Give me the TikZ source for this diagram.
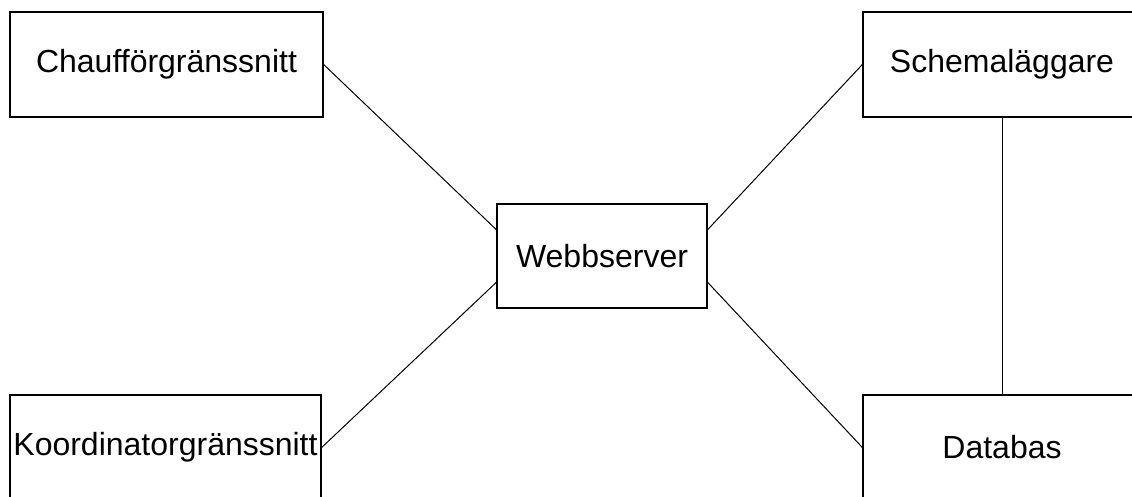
\documentclass[tikz,border=0pt]{standalone}
\usepackage{fontspec}
\setmainfont{Liberation Sans}
\usetikzlibrary{calc}

\tikzset{
  block/.style={draw=black, line width=1.3pt, fill=white, rectangle,
    inner sep=0pt, font=\fontsize{32}{38}\selectfont, text=black},
  link/.style={draw=black, line width=1pt}
}

\begin{document}
\begin{tikzpicture}[x=1pt, y=-1pt]
  % canvas; the right and bottom boxes run past its edges
  \useasboundingbox (0,0) rectangle (1132,497);
  \clip (0,0) rectangle (1132,497);
  \fill[white] (0,0) rectangle (1132,497);

  % components
  \node[block, minimum width=313pt, minimum height=105pt] (driver) at (166.5,64.5) {Chaufförgränssnitt};
  \node[block, minimum width=311pt, minimum height=105pt] (coord) at (165.5,447.5) {Koordinatorgränssnitt};
  \node[block, minimum width=210pt, minimum height=104pt] (web) at (602,256) {Webbserver};
  \node[block, minimum width=278pt, minimum height=105pt] (sched) at (1002,64.5) {Schemaläggare};
  \node[block, minimum width=278pt, minimum height=105pt] (db) at (1002,447.5) {Databas};

  % attachment points on the web server's sides
  \coordinate (webWl) at ($(web.north west)!0.25!(web.south west)$);
  \coordinate (webWh) at ($(web.north west)!0.75!(web.south west)$);
  \coordinate (webEl) at ($(web.north east)!0.25!(web.south east)$);
  \coordinate (webEh) at ($(web.north east)!0.75!(web.south east)$);

  % connections
  \draw[link] (driver.east) -- (webWl);
  \draw[link] (coord.east) -- (webWh);
  \draw[link] (webEl) -- (sched.west);
  \draw[link] (webEh) -- (db.west);
  \draw[link] (sched.south) -- (db.north);
\end{tikzpicture}
\end{document}
